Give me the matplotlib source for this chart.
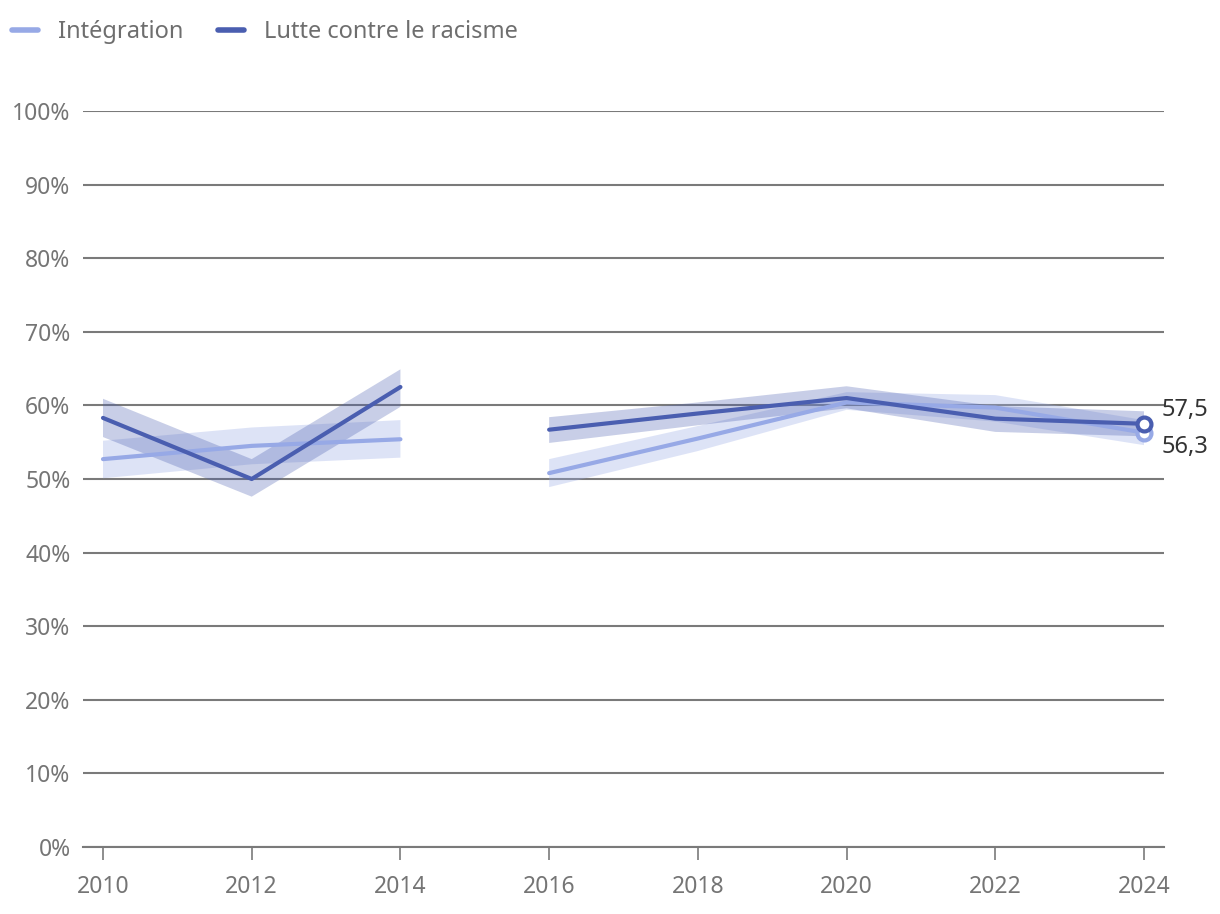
import matplotlib
matplotlib.use("Agg")
import matplotlib.pyplot as plt
import numpy as np

years = [2010, 2012, 2014, 2015, 2016, 2018, 2020, 2022, 2024]
integration = [52.7, 54.5, 55.4, None, 50.8, 55.5, 60.4, 59.7, 56.3]
integration_lo = [50.1, 52.0, 52.9, None, 48.9, 53.8, 59.4, 57.8, 54.6]
integration_hi = [55.2, 57.0, 58.0, None, 52.7, 57.2, 61.8, 61.4, 58.0]
lutte = [58.3, 50.0, 62.5, None, 56.7, 58.9, 61.0, 58.2, 57.5]
lutte_lo = [55.7, 47.6, 59.8, None, 54.9, 57.3, 59.6, 56.4, 55.8]
lutte_hi = [60.9, 52.7, 64.9, None, 58.4, 60.4, 62.6, 59.9, 59.2]
series_names = ["Intégration", "Lutte contre le racisme"]
end_labels = ["56,3", "57,5"]
xticks = [2010, 2012, 2014, 2016, 2018, 2020, 2022, 2024]
yticks = list(range(0, 101, 10))

plt.rcParams['font.family'] = ['Noto Sans', 'DejaVu Sans']

c_light = "#97a9e6"
c_dark = "#4a5eb0"
grid_c = "#7a7a7a"
tick_c = "#757575"

fig = plt.figure(figsize=(12.2, 9.14), dpi=100)
ax = fig.add_axes([83/1220, (914-847)/914, (1164-83)/1220, (847-111)/914])

def arr(v):
    return np.array([np.nan if x is None else x for x in v], dtype=float)

x = np.array(years, dtype=float)
for vals, lo, hi, col, falpha, lw, name, z in [
    (integration, integration_lo, integration_hi, c_light, 0.32, 3.0, series_names[0], 3),
    (lutte, lutte_lo, lutte_hi, c_dark, 0.30, 3.0, series_names[1], 4),
]:
    v, l, h = arr(vals), arr(lo), arr(hi)
    ax.fill_between(x, l, h, where=~np.isnan(v), color=col, alpha=falpha, lw=0, zorder=z)
    ax.plot(x, v, color=col, lw=lw, solid_capstyle='round', label=name, zorder=z + 2)
    ax.plot([x[-1]], [v[-1]], 'o', ms=10, mfc='white', mec=col, mew=3, zorder=z + 5)

ax.text(2024.24, integration[-1] - 2.0, end_labels[0], fontsize=17, color="#333333", va='center', ha='left')
ax.text(2024.24, lutte[-1] + 1.9, end_labels[1], fontsize=17, color="#333333", va='center', ha='left')

ax.set_xlim(2010 - 20/74.36, 2024 + 20/74.36)
ax.set_ylim(0, 100)
ax.set_yticks(yticks)
ax.set_yticklabels([f"{t}%" for t in yticks])
ax.set_xticks(xticks)
ax.set_xticklabels([str(t) for t in xticks])
ax.yaxis.grid(True, color=grid_c, lw=1.5)
ax.set_axisbelow(True)
for s in ['top', 'right', 'left']:
    ax.spines[s].set_visible(False)
ax.spines['bottom'].set_color(grid_c)
ax.spines['bottom'].set_linewidth(1.5)
ax.tick_params(axis='y', length=0, pad=9, labelsize=16.5, labelcolor=tick_c)
ax.tick_params(axis='x', length=9, width=1.2, color=grid_c, pad=11, labelsize=16.5, labelcolor=tick_c)

leg = fig.legend(loc='upper left', bbox_to_anchor=(12/1220, 1 - 20/914), ncol=2, frameon=False,
                 fontsize=17, handlelength=1.1, handletextpad=0.85, columnspacing=1.45,
                 borderaxespad=0, borderpad=0)
for t in leg.get_texts():
    t.set_color("#6e6e6e")
for h in leg.get_lines():
    h.set_linewidth(4)

fig.savefig("out.png", dpi=100)
